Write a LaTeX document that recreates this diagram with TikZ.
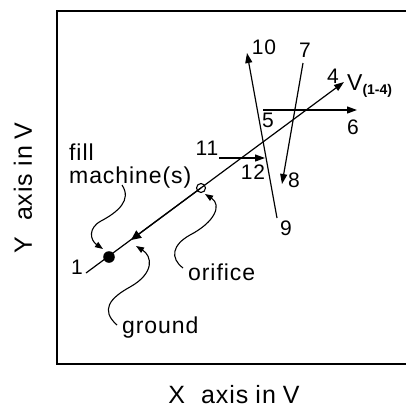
\documentclass[tikz,border=0pt]{standalone}
\usepackage{fontspec}
\setmainfont{Liberation Sans}
\newfontfamily\labfont[LetterSpace=4]{Liberation Sans}
\usetikzlibrary{arrows.meta}
\tikzset{
  ln/.style={line width=1.2pt},
  arr/.style={ln,-{Triangle[length=10pt,width=7pt]}},
  wavy/.style={line width=1.1pt,-{Triangle[length=8pt,width=6pt]}},
  num/.style={inner sep=0pt,font=\labfont\fontsize{21}{21}\selectfont},
  lab/.style={inner sep=0pt,anchor=west,font=\labfont\fontsize{23}{23}\selectfont},
  axlab/.style={inner sep=0pt,font=\labfont\fontsize{25}{25}\selectfont},
}
\begin{document}
\begin{tikzpicture}[x=1pt,y=-1pt]
\useasboundingbox (0,0) rectangle (406,410);
\clip (0,0) rectangle (406,410);
% frame
\draw[line width=2.2pt] (415,11) -- (57,11) -- (57,364) -- (415,364);
% main line
\coordinate (p1) at (86,273);
\coordinate (p4) at (344,82);
\coordinate (dot) at (109,257);
\coordinate (tri) at (131,240);
\coordinate (ori) at (201,188);
\draw[arr] (p1) -- (p4);
\draw[ln,-{Triangle[length=10pt,width=9pt]}] (ori) -- (tri);
\fill (dot) circle (5.8pt);
\draw[line width=1.1pt] (ori) circle (4.5pt);
% crossing vectors
\coordinate (p9) at (277,218);
\coordinate (p10) at (247,53);
\draw[arr] (p9) -- (p10);
\coordinate (p7) at (303,63);
\coordinate (p8) at (282,184);
\draw[arr] (p7) -- (p8);
\coordinate (p5) at (263,110);
\coordinate (p6) at (357,110);
\draw[arr] (p5) -- (p6);
\coordinate (p11) at (219,158);
\coordinate (p12) at (265,158);
\draw[arr] (p11) -- (p12);
% numeric labels
\node[num] (l1) at (77,267) {1};
\node[num] (l4) at (333,76) {4};
\node[inner sep=0pt,anchor=west] (lv) at (347,86) {\fontsize{23}{23}\selectfont V\raisebox{-4pt}{\fontsize{14}{14}\selectfont\bfseries(1{-}4)}};
\node[num] (l10) at (264,47) {10};
\node[num] (l7) at (305,50) {7};
\node[num] (l5) at (268,120) {5};
\node[num] (l6) at (353,127) {6};
\node[num] (l11) at (207,148) {11};
\node[num] (l12) at (253,172) {12};
\node[num] (l8) at (294,180) {8};
\node[num] (l9) at (286,228) {9};
% text labels
\node[lab] (fill) at (69,152) {fill};
\node[lab] (mach) at (69,178) {machine(s)};
\node[lab] (orif) at (188,272) {orifice};
\node[lab] (grnd) at (122,328) {ground};
% wavy arrows
\draw[wavy] (122,185) .. controls (132,200) and (118,212) .. (101,221) .. controls (88,228) and (90,240) .. (103,249);
\draw[wavy] (117,325) .. controls (100,310) and (110,298) .. (130,287) .. controls (155,273) and (152,256) .. (136,246);
\draw[wavy] (183,268) .. controls (170,258) and (172,245) .. (190,235) .. controls (215,222) and (222,205) .. (205,194);
% axis labels
\node[axlab] (xax) at (234,395) {X\hspace{16pt}axis\hspace{7pt}in\hspace{7pt}V};
\node[axlab,rotate=90] (yax) at (23,188) {Y\hspace{16pt}axis\hspace{7pt}in\hspace{7pt}V};
\end{tikzpicture}
\end{document}
